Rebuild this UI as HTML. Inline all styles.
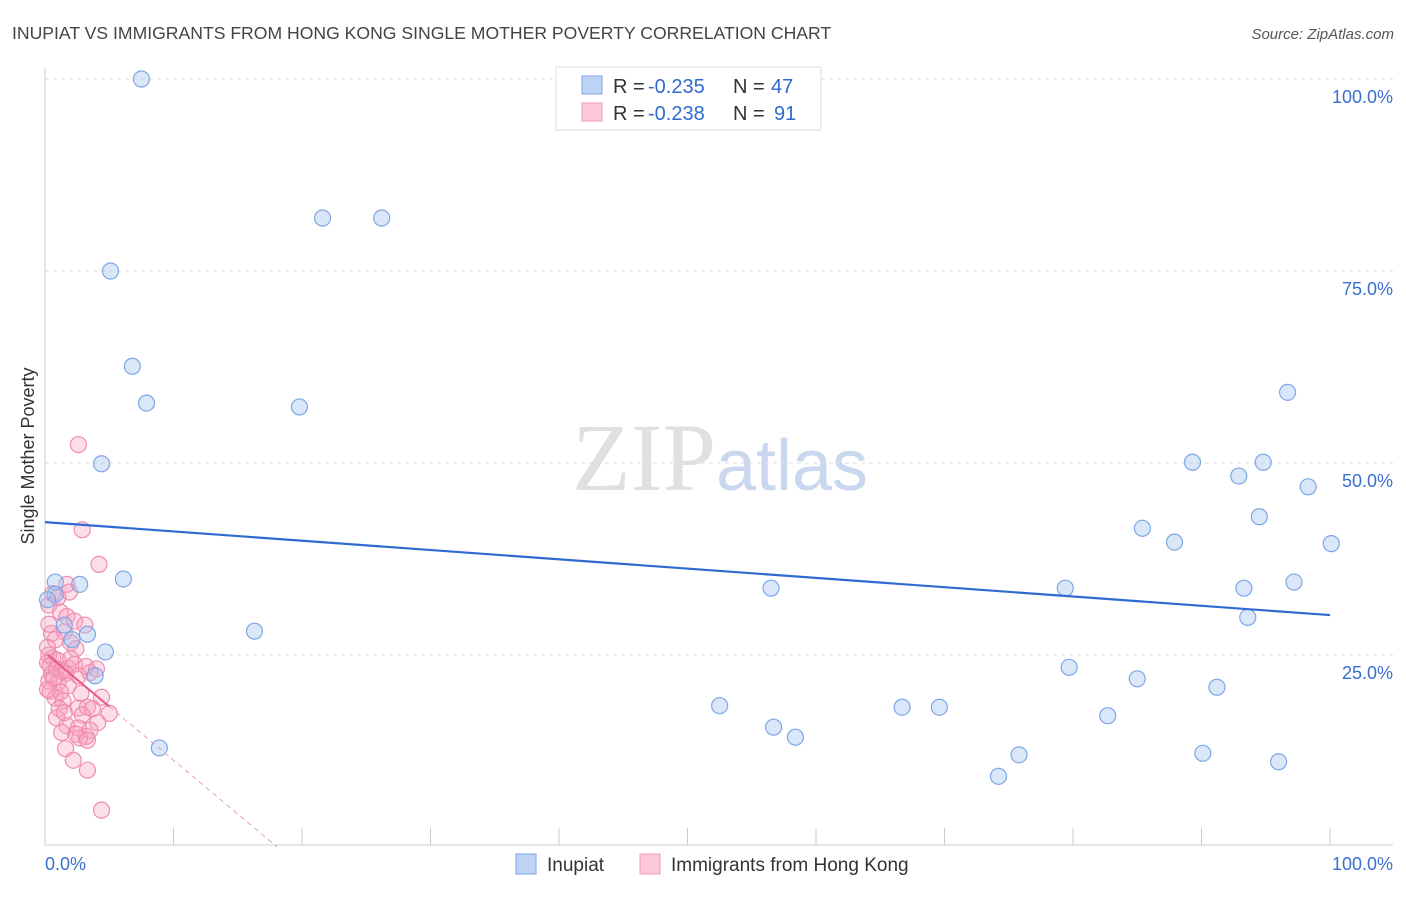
<!DOCTYPE html>
<html><head><meta charset="utf-8"><style>
body{margin:0;background:#fff;font-family:"Liberation Sans",sans-serif;}
</style></head><body>
<svg id="chart" width="1406" height="892" xmlns="http://www.w3.org/2000/svg" font-family="Liberation Sans, sans-serif">
<text x="12" y="39" font-size="17.6" fill="#444">INUPIAT VS IMMIGRANTS FROM HONG KONG SINGLE MOTHER POVERTY CORRELATION CHART</text>
<text x="1394" y="39" font-size="15" fill="#555" text-anchor="end" font-style="italic">Source: ZipAtlas.com</text>
<text x="720" y="490" font-size="96" text-anchor="middle" fill="#e0e0e0" font-family="Liberation Serif, serif">ZIP<tspan fill="#c9d8ee" font-family="Liberation Sans, sans-serif" font-size="72">atlas</tspan></text>
<text transform="translate(34,456) rotate(-90)" font-size="18" fill="#333" text-anchor="middle">Single Mother Poverty</text>
<g id="grid"></g>
<g id="axes"></g>
<g id="marks"></g>
<g>
<rect x="556" y="67" width="265" height="63" fill="#fff" stroke="#ddd"/>
<rect x="582" y="76" width="20" height="18" fill="#bcd3f5" stroke="#7fa6e6"/>
<rect x="582" y="103" width="20" height="18" fill="#fbc9d8" stroke="#f19ab5"/>
<text x="613" y="93" font-size="20" fill="#333">R =</text>
<text x="648" y="93" font-size="20" fill="#2f6ad0">-0.235</text>
<text x="733" y="93" font-size="20" fill="#333">N =</text>
<text x="771" y="93" font-size="20" fill="#2f6ad0">47</text>
<text x="613" y="120" font-size="20" fill="#333">R =</text>
<text x="648" y="120" font-size="20" fill="#2f6ad0">-0.238</text>
<text x="733" y="120" font-size="20" fill="#333">N =</text>
<text x="774" y="120" font-size="20" fill="#2f6ad0">91</text>
</g>
<g>
<rect x="516" y="854" width="20" height="20" fill="#bcd3f5" stroke="#7fa6e6"/>
<text x="547" y="871" font-size="19" fill="#333">Inupiat</text>
<rect x="640" y="854" width="20" height="20" fill="#fbc9d8" stroke="#f19ab5"/>
<text x="671" y="871" font-size="19" fill="#333">Immigrants from Hong Kong</text>
</g>
</svg>
<script>
const yTicks=[25,50,75,100];
const yTickLabels=["25.0%","50.0%","75.0%","100.0%"];
const xTicks=[0,10,20,30,40,50,60,70,80,90,100];
const inupiatX=[7.5,21.6,26.2,5.1,6.8,7.9,19.8,4.4,0.8,2.7,6.1,0.8,1.5,3.3,2.1,4.7,3.9,8.9,16.3,52.5,56.5,56.7,58.4,66.7,69.6,74.2,75.8,79.4,79.7,82.7,85,85.4,87.9,89.3,90.1,91.2,92.9,93.3,93.6,94.5,94.8,96,96.7,97.2,98.3,100.1,0.2];
const inupiatY=[100,81.9,81.9,75,62.6,57.8,57.3,49.9,34.5,34.2,34.9,32.9,28.9,27.7,27,25.4,22.3,12.9,28.1,18.4,33.7,15.6,14.3,18.2,18.2,9.2,12,33.7,23.4,17.1,21.9,41.5,39.7,50.1,12.2,20.8,48.3,33.7,29.9,43,50.1,11.1,59.2,34.5,46.9,39.5,32.2];
const hkX=[2.6,2.9,4.2,1.7,1.9,0.6,0.3,1.2,1.7,2.3,3.1,1.5,0.5,0.8,2.0,2.4,0.3,0.6,1.0,0.2,0.4,0.9,1.3,1.8,2.3,3.2,4.0,0.5,1.6,2.6,0.3,1.0,1.8,0.4,1.2,2.8,4.4,0.8,1.4,1.1,2.6,3.3,3.7,5.0,0.9,2.9,4.1,1.7,2.6,3.5,1.3,2.4,3.2,2.7,3.3,1.6,2.2,3.3,4.4,0.2,0.3,1.0,0.7,0.2,1.5,2.0,3.5];
const hkY=[52.4,41.3,36.8,34.2,33.2,33,31.5,30.6,30,29.4,28.9,28,27.8,27,26.6,25.8,25,24.6,24.3,24,23.6,23.2,23,23.3,23.8,23.5,23.2,22.5,22.6,22.3,21.6,21.4,21,20.3,20.2,20,19.5,19.4,19,18,18.1,18.2,18,17.4,16.8,17.2,16.2,15.8,15.5,15.2,14.9,14.7,14.4,14.2,13.9,12.8,11.3,10,4.8,26,29,32.5,22,20.5,17.5,24.5,22.7];
const inupiatTrend=[42.3,30.2];
const hkTrend=[25.3,-1.4];

const NS="http://www.w3.org/2000/svg";
const xs=v=>45+v*12.85;
const ys=v=>847-v*7.68;
function mk(tag,attrs,parent){const e=document.createElementNS(NS,tag);for(const k in attrs)e.setAttribute(k,attrs[k]);parent.appendChild(e);return e;}
const grid=document.getElementById('grid'),axes=document.getElementById('axes'),marks=document.getElementById('marks');
yTicks.forEach((t,i)=>{
 const l=mk('line',{x1:45,x2:1393,y1:ys(t),y2:ys(t),stroke:'#ddd','stroke-dasharray':'4,4'},grid);
 
 
 const tx=mk('text',{x:1393,y:ys(t)+24,'font-size':18,fill:'#3b70d0','text-anchor':'end'},grid);
 tx.textContent=yTickLabels[i];
 
 
});
const ax=mk('line',{x1:45,x2:1393,y1:845,y2:845,stroke:'#ccc'},axes);


const ay=mk('line',{x1:45,x2:45,y1:68,y2:845,stroke:'#ccc'},axes);


xTicks.forEach(t=>{
 const l=mk('line',{x1:xs(t),x2:xs(t),y1:828,y2:845,stroke:'#ccc'},axes);
 
 
});
const xl0=mk('text',{x:45,y:870,'font-size':18,fill:'#3b70d0'},axes);xl0.textContent='0.0%';


const xl1=mk('text',{x:1393,y:870,'font-size':18,fill:'#3b70d0','text-anchor':'end'},axes);xl1.textContent='100.0%';


hkX.forEach((x,i)=>{
 const c=mk('circle',{cx:xs(x),cy:ys(hkY[i]),r:8,fill:'rgba(246,160,190,0.35)',stroke:'#f08cb0','stroke-width':1.2},marks);
 
 
});
inupiatX.forEach((x,i)=>{
 const c=mk('circle',{cx:xs(x),cy:ys(inupiatY[i]),r:8,fill:'rgba(160,195,240,0.4)',stroke:'#7fa6e6','stroke-width':1.2},marks);
 
 
});
const bt=mk('line',{x1:xs(0),y1:ys(inupiatTrend[0]),x2:xs(100),y2:ys(inupiatTrend[1]),stroke:'#2f6ad0','stroke-width':2.2},marks);


const hEnd=-hkTrend[0]/hkTrend[1];
const ps=mk('line',{x1:xs(0.2),y1:ys(hkTrend[0]+hkTrend[1]*0.2),x2:xs(5),y2:ys(hkTrend[0]+hkTrend[1]*5),stroke:'#e8578a','stroke-width':2},marks);


const pd=mk('line',{x1:xs(5),y1:ys(hkTrend[0]+hkTrend[1]*5),x2:xs(hEnd),y2:ys(0),stroke:'#eaa0ba','stroke-width':1,'stroke-dasharray':'5,4'},marks);


</script>
</body></html>
